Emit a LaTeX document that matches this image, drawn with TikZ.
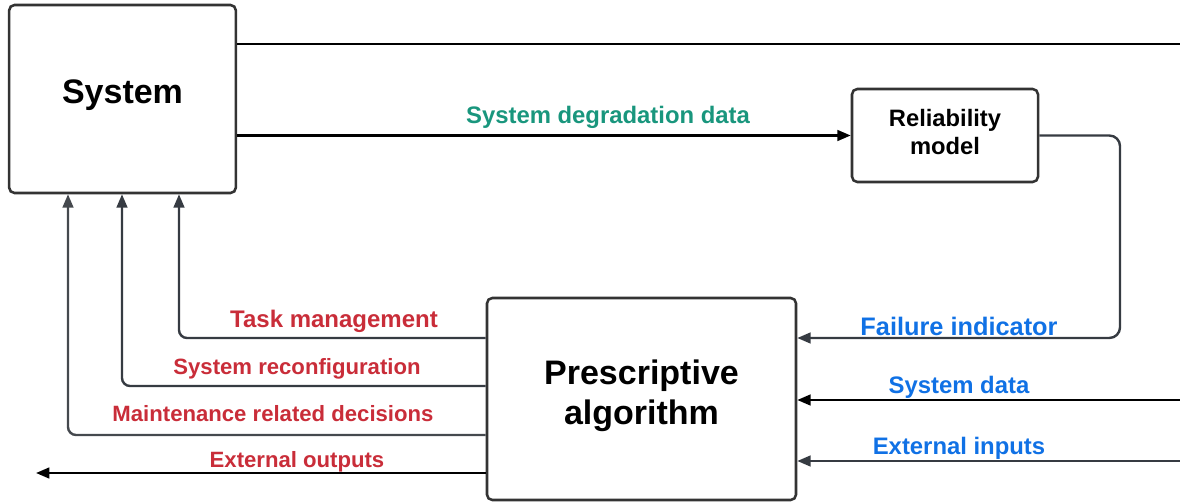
\documentclass[tikz,border=0pt]{standalone}
\usepackage{fontspec}
\setmainfont{Liberation Sans}
\usetikzlibrary{arrows.meta}
\definecolor{boxline}{HTML}{333333}
\definecolor{lbred}{HTML}{C92D39}
\definecolor{lbgreen}{HTML}{19967D}
\definecolor{lbblue}{HTML}{1071E5}
\definecolor{darkline}{HTML}{363B42}
\newsavebox{\liftbox}
\newcommand{\boxtext}[2][2pt]{\sbox{\liftbox}{\begin{tabular}{@{}c@{}}#2\end{tabular}}\raisebox{#1}[\ht\liftbox][\dp\liftbox]{\usebox{\liftbox}}}
\tikzset{
  blockbox/.style={draw=boxline, line width=1.9pt, rounded corners=4pt, fill=white, align=center, font=\bfseries, inner sep=0pt},
  conn/.style={line width=1.8pt, draw=darkline, -{Triangle[length=10pt,width=8pt]}},
  plain/.style={line width=1.8pt, draw=black},
  redlbl/.style={text=lbred, font=\bfseries\fontsize{16.6}{20}\selectfont},
  bluelbl/.style={text=lbblue, font=\bfseries\fontsize{17.9}{20}\selectfont},
  greenlbl/.style={text=lbgreen, font=\bfseries\fontsize{17.9}{20}\selectfont},
}
\begin{document}
\begin{tikzpicture}[x=0.75pt,y=-0.75pt]
\useasboundingbox (0,0) rectangle (1180,502);
% blocks
\node[blockbox, minimum width=170pt, minimum height=141pt, font=\bfseries\fontsize{25.5}{30}\selectfont] (sys) at (122.5,99) {\boxtext[2.5pt]{System}};
\node[blockbox, minimum width=139.5pt, minimum height=69.75pt, font=\bfseries\fontsize{17.8}{21}\selectfont] (rel) at (945,135.5) {\boxtext[0.5pt]{Reliability\\model}};
\node[blockbox, minimum width=231.75pt, minimum height=151.5pt, font=\bfseries\fontsize{25.5}{30}\selectfont] (pre) at (641.5,399) {\boxtext[2pt]{Prescriptive\\algorithm}};
% free ends
\coordinate (topR) at (1180,44);
\coordinate (fc) at (1120,338);
\coordinate (sdin) at (1180,400);
\coordinate (eiin) at (1180,461);
\coordinate (tm) at (179,338);
\coordinate (sr) at (122,386);
\coordinate (md) at (68,435);
\coordinate (eo) at (36,473);
% system outputs
\draw[plain] (sys.east |- topR) -- (topR);
\draw[plain, -{Triangle[length=10pt,width=8pt]}] (sys.east |- rel.west) -- (rel.west);
% failure indicator
\draw[conn, rounded corners=8pt] (rel.east) -| (fc) -- (pre.east |- fc);
\draw[conn, draw=black] (sdin) -- (pre.east |- sdin);
\draw[conn] (eiin) -- (pre.east |- eiin);
% decisions
\draw[conn, rounded corners=6pt] (pre.west |- tm) -| (sys.south -| tm);
\draw[conn, rounded corners=6pt] (pre.west |- sr) -| (sys.south -| sr);
\draw[conn, draw=darkline!80!gray, rounded corners=6pt] (pre.west |- md) -| (sys.south -| md);
\draw[conn, draw=black] (pre.west |- eo) -- (eo);
% labels
\node[greenlbl] (lsdd) at (608,117) {System degradation data};
\node[bluelbl, font=\bfseries\fontsize{19}{22}\selectfont] (lfi) at (959,326) {Failure indicator};
\node[bluelbl] (lsd) at (959,387) {System data};
\node[bluelbl] (lei) at (959,448) {External inputs};
\node[redlbl, font=\bfseries\fontsize{18}{20}\selectfont] (ltm) at (334,321) {Task management};
\node[redlbl] (lsr) at (297,369) {System reconfiguration};
\node[redlbl] (lmd) at (273,414) {Maintenance related decisions};
\node[redlbl] (leo) at (297,462) {External outputs};
\end{tikzpicture}
\end{document}
